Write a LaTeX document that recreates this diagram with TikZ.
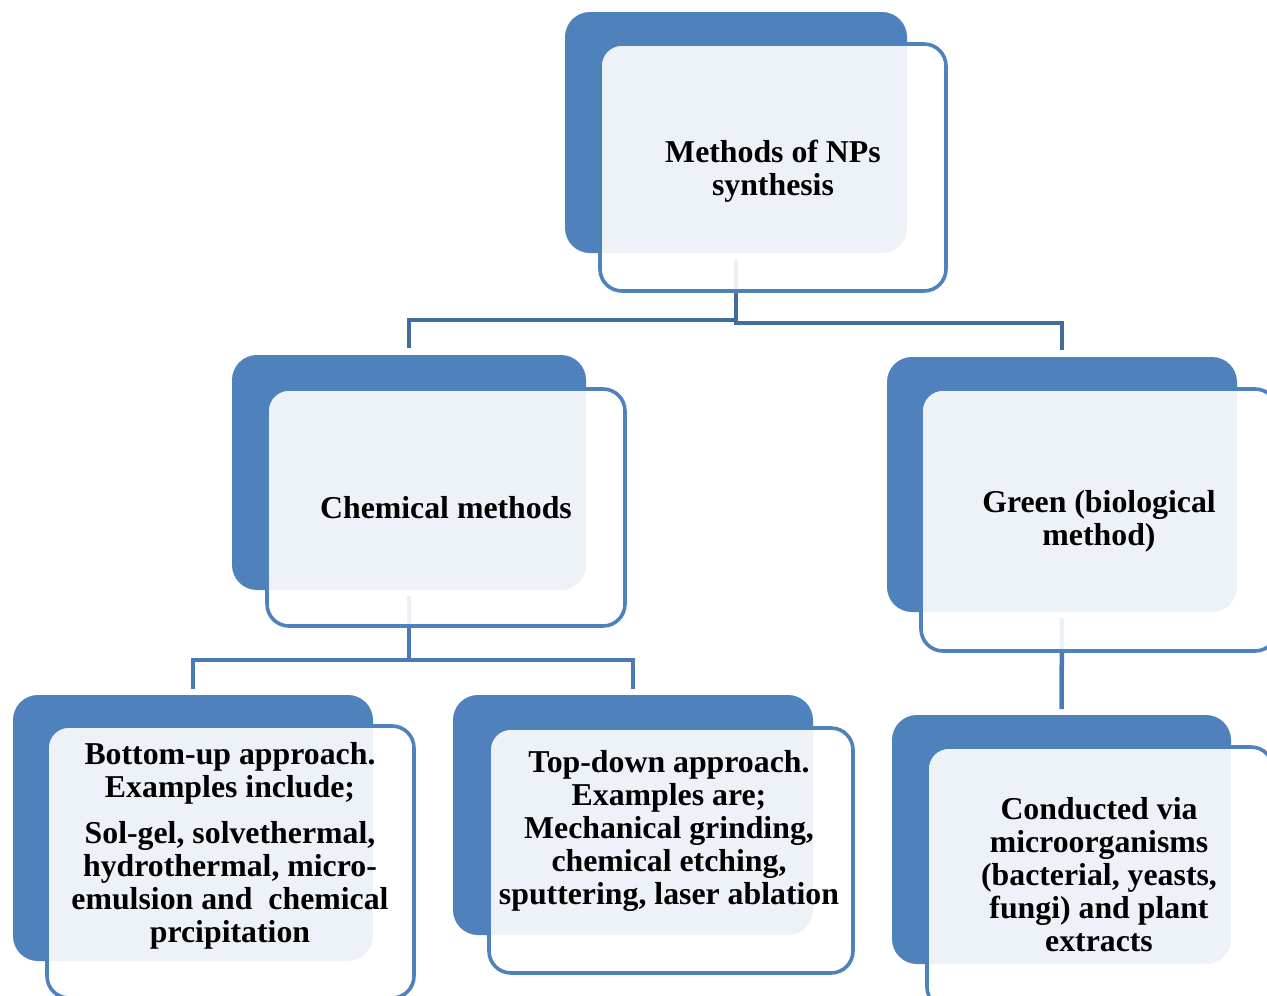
\documentclass[tikz,border=0pt]{standalone}
\usepackage{fontspec}
\setmainfont{Liberation Serif}
\definecolor{accent}{RGB}{79,129,189}
\definecolor{connA}{RGB}{66,108,158}
\definecolor{connB}{RGB}{74,122,181}
\begin{document}
\begin{tikzpicture}[x=1pt,y=-1pt,
  backbox/.style={rectangle, rounded corners=25pt, fill=accent, draw=none, inner sep=0pt, outer sep=0pt},
  frontbox/.style={rectangle, rounded corners=22pt, draw=accent, line width=3.6pt, fill=white, fill opacity=0.9, inner sep=0pt, outer sep=0pt},
  label/.style={align=center, font=\fontsize{31.8}{33}\selectfont\bfseries, text=black, inner sep=0pt},
  connTop/.style={draw=connA, line width=4.5pt, shorten <=7pt, shorten >=7pt},
  connLow/.style={draw=connB, line width=4.5pt, shorten <=6pt, shorten >=6pt}]
\clip (0,0) rectangle (1267,996);
\fill[white] (0,0) rectangle (1267,996);
% back boxes
\node[backbox, minimum width=342pt, minimum height=241pt] (topB) at (736,132.5) {};
\node[backbox, minimum width=354pt, minimum height=235pt] (chemB) at (409,472.5) {};
\node[backbox, minimum width=350pt, minimum height=255pt] (greenB) at (1062,484.5) {};
\node[backbox, minimum width=360pt, minimum height=266pt] (bottomB) at (193,828) {};
\node[backbox, minimum width=360pt, minimum height=240pt] (tdB) at (633,815) {};
\node[backbox, minimum width=339pt, minimum height=249pt] (condB) at (1061.5,839.5) {};
% junction coordinates
\coordinate (jL) at (736,320);
\coordinate (jR) at (736,323);
\coordinate (jC) at (409,660);
% connectors
\draw[connTop] (topB.south) -- (topB.south |- jL) -| (chemB.north);
\draw[connTop] (topB.south) -- (topB.south |- jR) -| (greenB.north);
\draw[connLow] (chemB.south) -- (jC) -| (bottomB.north);
\draw[connLow] (chemB.south) -- (jC) -| (tdB.north);
\draw[connLow] (greenB.south) -- (condB.north);
% front frames
\node[frontbox, minimum width=346pt, minimum height=247pt] (topF) at (773,167.5) {};
\node[frontbox, minimum width=358pt, minimum height=237pt] (chemF) at (446,507.5) {};
\node[frontbox, minimum width=356pt, minimum height=262pt] (greenF) at (1099,520) {};
\node[frontbox, minimum width=367pt, minimum height=272pt] (bottomF) at (230.5,862) {};
\node[frontbox, minimum width=364pt, minimum height=245pt] (tdF) at (671,850.5) {};
\node[frontbox, minimum width=346pt, minimum height=262pt] (condF) at (1100,878) {};
% texts
\node[label] (topT) at (773,171.5) {Methods of NPs\\synthesis};
\node[label] (chemT) at (446,508) {Chemical methods};
\node[label] (greenT) at (1099,521.5) {Green (biological\\method)};
\node[label] (bottomT) at (230,845.5) {Bottom-up approach.\\Examples include;\\[13pt]Sol-gel, solvethermal,\\hydrothermal, micro-\\emulsion and\ \ chemical\\prcipitation};
\node[label] (tdT) at (669,831) {Top-down approach.\\Examples are;\\Mechanical grinding,\\chemical etching,\\sputtering, laser ablation};
\node[label] (condT) at (1099,874.5) {Conducted via\\microorganisms\\(bacterial, yeasts,\\fungi) and plant\\extracts};
\end{tikzpicture}
\end{document}
